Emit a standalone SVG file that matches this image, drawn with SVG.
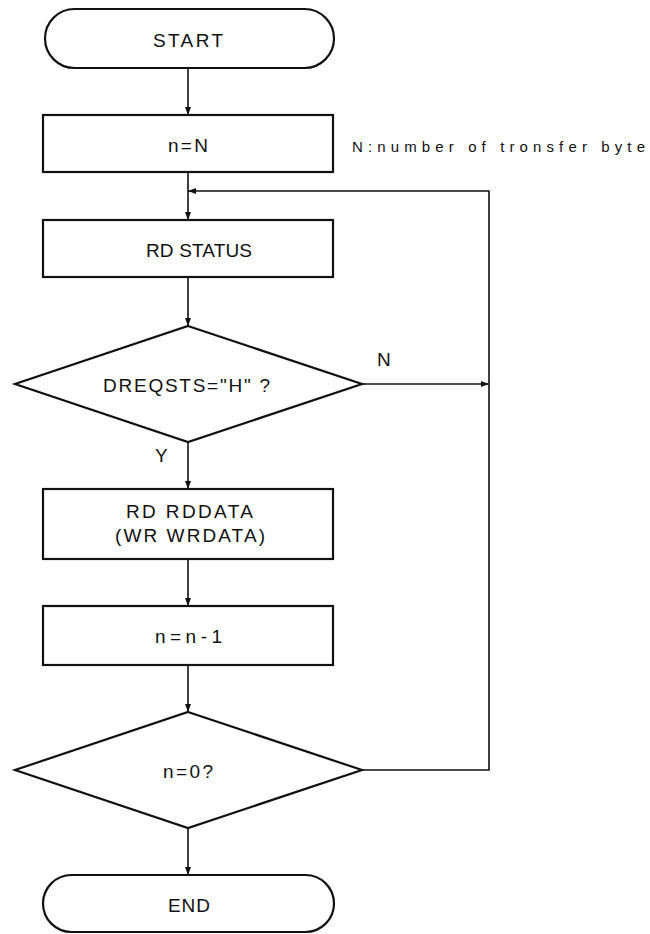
<svg xmlns="http://www.w3.org/2000/svg" width="650" height="934" viewBox="0 0 650 934">
<defs>
<marker id="arr" markerWidth="8" markerHeight="6" refX="8" refY="3" orient="auto" markerUnits="userSpaceOnUse">
<path d="M0,0 L8,3 L0,6 Z" fill="#111"/>
</marker>
<style>
.shape{fill:#fff;stroke:#111;stroke-width:2.2}
.conn{fill:none;stroke:#111;stroke-width:1.6}
text{font-family:"Liberation Sans","DejaVu Sans",Arial,sans-serif;font-size:19px;fill:#111}
.lbl{text-anchor:start}
.note{font-size:15px}
</style>
</defs>
<rect width="650" height="934" fill="#fff"/>
<g id="connectors">
<line class="conn" x1="188" y1="68" x2="188" y2="115" marker-end="url(#arr)"/>
<line class="conn" x1="188" y1="172" x2="188" y2="220" marker-end="url(#arr)"/>
<line class="conn" x1="188" y1="277" x2="188" y2="326" marker-end="url(#arr)"/>
<line class="conn" x1="362" y1="384" x2="489" y2="384" marker-end="url(#arr)"/>
<line class="conn" x1="188" y1="442" x2="188" y2="489" marker-end="url(#arr)"/>
<line class="conn" x1="188" y1="559" x2="188" y2="606" marker-end="url(#arr)"/>
<line class="conn" x1="188" y1="665" x2="188" y2="712" marker-end="url(#arr)"/>
<line class="conn" x1="188" y1="828" x2="188" y2="875" marker-end="url(#arr)"/>
<polyline class="conn" points="362,770 489,770 489,191 188,191" marker-end="url(#arr)"/>
<text class="lbl" x="377" y="366">N</text>
<text class="lbl" x="155" y="462">Y</text>
</g>
<g id="start">
<rect class="shape" x="45" y="9" width="289" height="59" rx="29.5" ry="29.5"/>
<text x="153" y="47" textLength="70" lengthAdjust="spacing">START</text>
</g>
<g id="init">
<rect class="shape" x="43" y="115" width="290" height="57"/>
<text x="168" y="152" textLength="40" lengthAdjust="spacing">n=N</text>
</g>
<g id="note">
<text class="note" x="352" y="152" textLength="293" lengthAdjust="spacing">N:number of tronsfer byte</text>
</g>
<g id="rdstatus">
<rect class="shape" x="43" y="220" width="290" height="57"/>
<text x="146" y="257" textLength="106" lengthAdjust="spacing">RD STATUS</text>
</g>
<g id="dreq">
<polygon class="shape" points="188,326 362,384 188,442 15,384"/>
<text x="103" y="392" textLength="167" lengthAdjust="spacing">DREQSTS="H" ?</text>
</g>
<g id="rddata">
<rect class="shape" x="43" y="489" width="290" height="70"/>
<text x="126" y="518" textLength="127" lengthAdjust="spacing">RD RDDATA</text>
<text x="115" y="542" textLength="150" lengthAdjust="spacing">(WR WRDATA)</text>
</g>
<g id="dec">
<rect class="shape" x="43" y="606" width="290" height="59"/>
<text x="155" y="643" textLength="67" lengthAdjust="spacing">n=n-1</text>
</g>
<g id="zero">
<polygon class="shape" points="188,712 362,770 188,828 15,770"/>
<text x="163" y="778" textLength="50" lengthAdjust="spacing">n=0?</text>
</g>
<g id="end">
<rect class="shape" x="43" y="875" width="291" height="57" rx="28.5" ry="28.5"/>
<text x="168" y="912" textLength="42" lengthAdjust="spacing">END</text>
</g>
</svg>
